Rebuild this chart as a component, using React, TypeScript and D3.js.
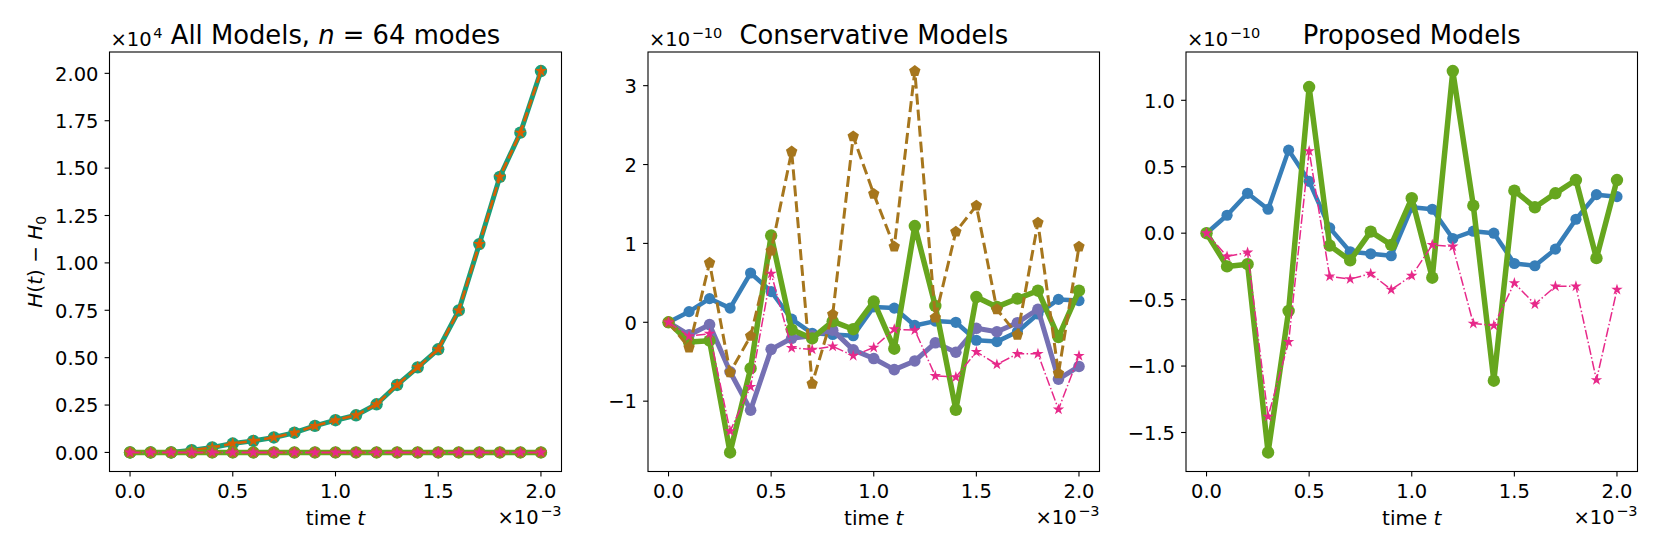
import React from 'react';
import * as d3 from 'd3';

// time in units of 1e-3
const times = [0.0, 0.1, 0.2, 0.3, 0.4, 0.5, 0.6, 0.7, 0.8, 0.9, 1.0, 1.1, 1.2, 1.3, 1.4, 1.5, 1.6, 1.7, 1.8, 1.9, 2.0];

// Non-conservative models, H(t)-H0 in units of 1e4
const tealSeries = [0, 0, 0, 0.012, 0.026, 0.047, 0.061, 0.079, 0.104, 0.14, 0.17, 0.196, 0.254, 0.356, 0.449, 0.544, 0.749, 1.099, 1.454, 1.687, 2.012];
const orangeSeries = [0, 0, 0, 0.012, 0.026, 0.047, 0.061, 0.079, 0.104, 0.14, 0.17, 0.196, 0.254, 0.356, 0.449, 0.544, 0.749, 1.099, 1.454, 1.687, 2.012];

// Conservative / proposed models, H(t)-H0 in units of 1e-10
const blueSeries = [0, 0.135, 0.3, 0.18, 0.625, 0.39, 0.04, -0.14, -0.155, -0.17, 0.195, 0.18, -0.04, 0.015, 0.0, -0.228, -0.245, -0.12, 0.105, 0.29, 0.275];
const purpleSeries = [0, -0.16, -0.03, -0.627, -1.114, -0.343, -0.203, -0.17, -0.1, -0.35, -0.46, -0.6, -0.49, -0.26, -0.38, -0.076, -0.12, -0.005, 0.165, -0.72, -0.56];
const greenSeries = [0, -0.25, -0.233, -1.65, -0.585, 1.1, -0.093, -0.205, 0.012, -0.088, 0.263, -0.335, 1.22, 0.207, -1.11, 0.32, 0.195, 0.3, 0.4, -0.188, 0.4];
const brownSeries = [0, -0.32, 0.754, -0.636, -0.174, 0.907, 2.165, -0.78, 0.1, 2.356, 1.627, 0.958, 3.185, 0.06, 1.148, 1.479, 0.165, -0.16, 1.263, -0.648, 0.958];
const pinkSeries = [0, -0.175, -0.145, -1.38, -0.818, 0.618, -0.325, -0.345, -0.305, -0.425, -0.32, -0.088, -0.1, -0.68, -0.695, -0.375, -0.535, -0.4, -0.4, -1.105, -0.425];

const xTicks = [0, 0.5, 1.0, 1.5, 2.0];
const yTicksAll = [0, 0.25, 0.5, 0.75, 1.0, 1.25, 1.5, 1.75, 2.0];
const yTicksConservative = [-1, 0, 1, 2, 3];
const yTicksProposed = [-1.5, -1.0, -0.5, 0.0, 0.5, 1.0];

const FONT = 'DejaVu Sans, sans-serif';
const TICK_FS = 19.5;
const SUP_FS = 14.5;

type Style = {
  color: string;
  width: number;
  dash?: string;
  marker: 'circle' | 'star' | 'pentagon';
  size: number;
};

const S: Record<string, Style> = {
  teal: { color: '#1b9e77', width: 5, marker: 'circle', size: 6.2 },
  orange: { color: '#d95f02', width: 2.6, dash: '9.5,4', marker: 'star', size: 6.5 },
  blue: { color: '#377eb8', width: 4.5, marker: 'circle', size: 5.6 },
  purple: { color: '#7570b3', width: 5, marker: 'circle', size: 5.8 },
  green: { color: '#66a61e', width: 5.5, marker: 'circle', size: 6.2 },
  brown: { color: '#a6761d', width: 3, dash: '11,5', marker: 'pentagon', size: 6 },
  pink: { color: '#e7298a', width: 1.5, dash: '9.6,2.4,1.5,2.4', marker: 'star', size: 6 },
};

function starPath(cx: number, cy: number, R: number) {
  const r = R * 0.382;
  const pts: string[] = [];
  for (let i = 0; i < 10; i++) {
    const a = -Math.PI / 2 + (i * Math.PI) / 5;
    const rad = i % 2 === 0 ? R : r;
    pts.push(`${cx + rad * Math.cos(a)},${cy + rad * Math.sin(a)}`);
  }
  return 'M' + pts.join('L') + 'Z';
}

function pentagonPath(cx: number, cy: number, R: number) {
  const pts: string[] = [];
  for (let i = 0; i < 5; i++) {
    const a = -Math.PI / 2 + (i * 2 * Math.PI) / 5;
    pts.push(`${cx + R * Math.cos(a)},${cy + R * Math.sin(a)}`);
  }
  return 'M' + pts.join('L') + 'Z';
}

type SeriesDef = { values: number[]; style: Style };

type PanelProps = {
  left: number;
  right: number;
  series: SeriesDef[];
  yTicks: number[];
  yFmt: (v: number) => string;
  title: React.ReactNode;
  exponent: string;
  ylabel?: boolean;
};

const TOP = 52;
const BOTTOM = 471.5;

function fmtMinus(s: string) {
  return s.replace('-', '\u2212');
}

function Panel({ left, right, series, yTicks, yFmt, title, exponent, ylabel }: PanelProps) {
  const x = d3.scaleLinear().domain([-0.1, 2.1]).range([left, right]);
  const all = series.flatMap((s) => s.values);
  const [mn, mx] = d3.extent(all) as [number, number];
  const pad = (mx - mn) * 0.05;
  const y = d3.scaleLinear().domain([mn - pad, mx + pad]).range([BOTTOM, TOP]);
  const line = d3
    .line<number>()
    .x((_, i) => x(times[i]))
    .y((v) => y(v));
  const cx = (left + right) / 2;
  return (
    <g>
      {series.map((s, si) => (
        <g key={si}>
          <path
            d={line(s.values) || ''}
            fill="none"
            stroke={s.style.color}
            strokeWidth={s.style.width}
            strokeDasharray={s.style.dash}
            strokeLinejoin="round"
            strokeLinecap={s.style.dash ? 'butt' : 'round'}
          />
          {s.values.map((v, i) => {
            const px = x(times[i]);
            const py = y(v);
            if (s.style.marker === 'circle')
              return <circle key={i} cx={px} cy={py} r={s.style.size} fill={s.style.color} />;
            if (s.style.marker === 'star')
              return <path key={i} d={starPath(px, py, s.style.size)} fill={s.style.color} />;
            return <path key={i} d={pentagonPath(px, py, s.style.size)} fill={s.style.color} />;
          })}
        </g>
      ))}
      <rect x={left} y={TOP} width={right - left} height={BOTTOM - TOP} fill="none" stroke="#000" strokeWidth={1.1} />
      {xTicks.map((t) => (
        <g key={t}>
          <line x1={x(t)} x2={x(t)} y1={BOTTOM} y2={BOTTOM + 4.9} stroke="#000" strokeWidth={1.1} />
          <text x={x(t)} y={498} textAnchor="middle" fontSize={TICK_FS} fontFamily={FONT}>
            {t.toFixed(1)}
          </text>
        </g>
      ))}
      {yTicks.map((t) => (
        <g key={t}>
          <line x1={left - 4.9} x2={left} y1={y(t)} y2={y(t)} stroke="#000" strokeWidth={1.1} />
          <text x={left - 11} y={y(t) + 7.3} textAnchor="end" fontSize={TICK_FS} fontFamily={FONT}>
            {fmtMinus(yFmt(t))}
          </text>
        </g>
      ))}
      {/* y offset text */}
      <text x={left + 1} y={46} fontSize={TICK_FS} fontFamily={FONT}>
        ×10
        <tspan dx={1.5} dy={-8.5} fontSize={SUP_FS}>
          {exponent}
        </tspan>
      </text>
      {/* x offset text */}
      <text x={right} y={524} textAnchor="end" fontSize={TICK_FS} fontFamily={FONT}>
        ×10
        <tspan dx={1.5} dy={-8.5} fontSize={SUP_FS}>
          −3
        </tspan>
      </text>
      {/* x label */}
      <text x={cx} y={525} textAnchor="middle" fontSize={20} fontFamily={FONT}>
        time <tspan fontStyle="italic">t</tspan>
      </text>
      {/* title */}
      <text x={cx} y={44} textAnchor="middle" fontSize={25.8} fontFamily={FONT}>
        {title}
      </text>
      {ylabel && (
        <text
          transform={`translate(41.5, ${(TOP + BOTTOM) / 2}) rotate(-90)`}
          textAnchor="middle"
          fontSize={20}
          fontFamily={FONT}
        >
          <tspan fontStyle="italic">H</tspan>(<tspan fontStyle="italic">t</tspan>) − <tspan fontStyle="italic">H</tspan>
          <tspan dy={4} fontSize={14}>
            0
          </tspan>
        </text>
      )}
    </g>
  );
}

const scaleTo = (arr: number[], factor: number) => arr.map((v) => v * factor);

export default function App() {
  const conservative: SeriesDef[] = [
    { values: blueSeries, style: S.blue },
    { values: purpleSeries, style: S.purple },
    { values: greenSeries, style: S.green },
    { values: brownSeries, style: S.brown },
    { values: pinkSeries, style: S.pink },
  ];
  const allModels: SeriesDef[] = [
    { values: tealSeries, style: S.teal },
    { values: orangeSeries, style: S.orange },
    ...conservative.map((s) => ({ values: scaleTo(s.values, 1e-14), style: s.style })),
  ];
  const proposed: SeriesDef[] = [
    { values: blueSeries, style: S.blue },
    { values: greenSeries, style: S.green },
    { values: pinkSeries, style: S.pink },
  ];
  return (
    <svg
      width={1661}
      height={554}
      style={{ position: 'absolute', left: 0, top: 0, display: 'block', background: '#fff' }}
    >
      <rect x={0} y={0} width={1661} height={554} fill="#fff" />
      <Panel
        left={109.5}
        right={561.5}
        series={allModels}
        yTicks={yTicksAll}
        yFmt={(v) => v.toFixed(2)}
        exponent="4"
        ylabel
        title={
          <>
            All Models, <tspan fontStyle="italic">n</tspan> = 64 modes
          </>
        }
      />
      <Panel
        left={648}
        right={1099.5}
        series={conservative}
        yTicks={yTicksConservative}
        yFmt={(v) => d3.format('d')(v)}
        exponent="−10"
        title={<>Conservative Models</>}
      />
      <Panel
        left={1186}
        right={1637.5}
        series={proposed}
        yTicks={yTicksProposed}
        yFmt={(v) => v.toFixed(1)}
        exponent="−10"
        title={<>Proposed Models</>}
      />
    </svg>
  );
}
